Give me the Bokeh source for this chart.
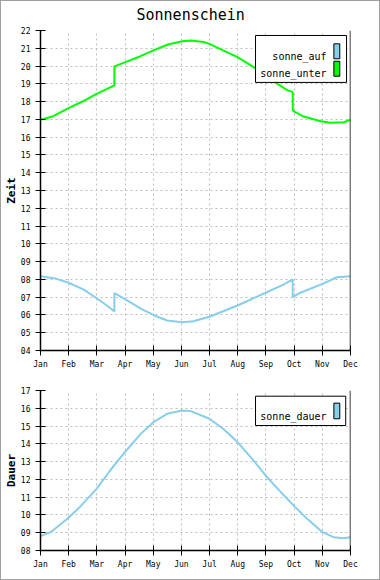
from bokeh.plotting import figure
from bokeh.models import Range1d, FixedTicker, Span, BoxAnnotation, Label, Title
from bokeh.layouts import column
from bokeh.embed import file_html
from bokeh.resources import INLINE

# ---------------- data ----------------
months = ["Jan", "Feb", "Mar", "Apr", "May", "Jun", "Jul", "Aug", "Sep", "Oct", "Nov", "Dec"]

zeit_ticks = list(range(4, 23))
zeit_tick_labels = ["04", "05", "06", "07", "08", "09", "10", "11", "12", "13",
                    "14", "15", "16", "17", "18", "19", "20", "21", "22"]
dauer_ticks = list(range(8, 18))
dauer_tick_labels = ["08", "09", "10", "11", "12", "13", "14", "15", "16", "17"]

# day of year -> hour of day
auf_day = [0, 16, 33, 51, 67, 78, 87, 87, 101, 118, 134, 149, 167, 180, 199, 232,
           265, 286, 297, 297, 306, 332, 349, 365]
auf_hour = [8.18, 8.07, 7.81, 7.42, 6.91, 6.53, 6.20, 7.23, 6.85, 6.35, 5.97, 5.69,
            5.59, 5.65, 5.90, 6.53, 7.25, 7.71, 8.00, 7.00, 7.25, 7.75, 8.12, 8.18]

unter_day = [0, 15, 33, 50, 66, 87, 87, 100, 117, 133, 150, 167, 177, 192, 199, 215,
             232, 251, 265, 279, 290, 297, 297, 300, 310, 330, 341, 357, 365]
unter_hour = [16.98, 17.18, 17.63, 18.02, 18.44, 18.91, 19.98, 20.22, 20.54, 20.88,
              21.21, 21.40, 21.44, 21.35, 21.25, 20.88, 20.50, 19.94, 19.38, 19.00,
              18.66, 18.53, 17.50, 17.41, 17.16, 16.90, 16.81, 16.84, 16.98]

dauer_day = [0, 12, 33, 47, 66, 82, 100, 118, 133, 149, 167, 177, 199, 215, 232, 251,
             265, 283, 300, 314, 332, 345, 357, 365]
dauer_hour = [8.81, 9.03, 9.84, 10.48, 11.47, 12.50, 13.57, 14.56, 15.22, 15.69, 15.88,
              15.84, 15.41, 14.85, 14.10, 13.06, 12.22, 11.28, 10.44, 9.78, 9.03,
              8.75, 8.69, 8.75]

# month axis: labels evenly spaced over the whole year
DAYS = 365.0
NSTEP = len(months) - 1


def to_axis(days):
    return [d * NSTEP / DAYS for d in days]


AUF = "#87ceeb"
UNTER = "#00ff00"
GRID = "#bdbdbd"
MONO = "DejaVu Sans Mono"


def style(p, yticks, ylabels, ylabel):
    p.outline_line_color = None
    p.background_fill_color = "white"
    p.border_fill_alpha = 0
    for ax in (p.xaxis, p.yaxis):
        ax.axis_line_width = 1.5
        ax.axis_line_color = "black"
        ax.major_tick_line_width = 1
        ax.major_tick_line_color = "black"
        ax.major_tick_in = 5
        ax.major_tick_out = 5
        ax.minor_tick_line_color = None
        ax.major_label_text_font = MONO
        ax.major_label_text_font_size = "8px"
        ax.major_label_text_color = "black"
    p.xaxis.ticker = FixedTicker(ticks=list(range(len(months))))
    p.xaxis.major_label_overrides = {i: m for i, m in enumerate(months)}
    p.xaxis.major_label_standoff = 4
    p.yaxis.ticker = FixedTicker(ticks=yticks)
    p.yaxis.major_label_overrides = dict(zip(yticks, ylabels))
    p.yaxis.major_label_standoff = 5
    p.yaxis.axis_label = ylabel
    p.yaxis.axis_label_text_font = MONO
    p.yaxis.axis_label_text_font_size = "11px"
    p.yaxis.axis_label_text_font_style = "bold"
    p.yaxis.axis_label_text_color = "black"
    p.yaxis.axis_label_standoff = 0
    p.grid.grid_line_color = GRID
    p.grid.grid_line_dash = "2 3"
    p.grid.grid_line_width = 1
    p.add_layout(Span(location=NSTEP, dimension="height", line_color="black", line_width=1.5))


def legend(p, entries, box, text_right, sw_left, sw_right):
    left, right, top, bottom = box
    p.add_layout(BoxAnnotation(left=left, right=right, top=top, bottom=bottom,
                               fill_color="white", fill_alpha=1.0,
                               line_color="black", line_width=1, line_alpha=1.0))
    for text, color, base, sw_top, sw_bot in entries:
        p.add_layout(Label(x=text_right, y=base, text=text, text_align="right",
                           text_baseline="alphabetic", text_font=MONO,
                           text_font_size="10px", text_color="black"))
        p.add_layout(BoxAnnotation(left=sw_left, right=sw_right, top=sw_top, bottom=sw_bot,
                                   fill_color=color, fill_alpha=1.0,
                                   line_color="black", line_width=1, line_alpha=1.0))


W = 380
p1 = figure(width=W, height=380, output_backend="svg", toolbar_location=None,
            x_range=Range1d(0, NSTEP), y_range=Range1d(4, 22),
            min_border_left=40, min_border_right=30, min_border_top=30, min_border_bottom=30)
p1.title = Title(text="Sonnenschein", align="left", offset=96, text_font=MONO,
                 text_font_size="15px", text_font_style="normal", text_color="black",
                 vertical_align="top", standoff=10)
style(p1, zeit_ticks, zeit_tick_labels, "Zeit")
p1.line(to_axis(auf_day), auf_hour, line_color=AUF, line_width=2)
p1.line(to_axis(unter_day), unter_hour, line_color=UNTER, line_width=2)
legend(p1,
       [("sonne_auf", AUF, 20.54, 21.25, 20.41),
        ("sonne_unter", UNTER, 19.56, 20.27, 19.43)],
       (7.63, 10.86, 21.72, 19.08), 10.15, 10.41, 10.62)

p2 = figure(width=W, height=200, output_backend="svg", toolbar_location=None,
            x_range=Range1d(0, NSTEP), y_range=Range1d(8, 17),
            min_border_left=40, min_border_right=30, min_border_top=10, min_border_bottom=30)
style(p2, dauer_ticks, dauer_tick_labels, "Dauer")
p2.line(to_axis(dauer_day), dauer_hour, line_color=AUF, line_width=2)
legend(p2,
       [("sonne_dauer", AUF, 15.55, 16.29, 15.41)],
       (7.63, 10.83, 16.68, 15.03), 10.15, 10.41, 10.62)

layout = column(p1, p2, styles={"background-color": "white",
                                "box-shadow": "inset 0 0 0 1px #a0a0a0"})
open("out.html", "w").write(file_html(layout, INLINE))
